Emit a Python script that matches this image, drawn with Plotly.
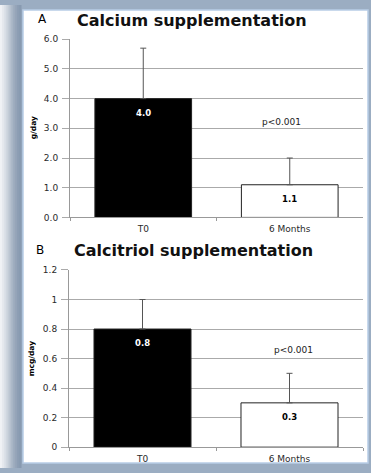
import plotly.graph_objects as go

W, H = 371, 473

categories = ["T0", "6 Months"]
calcium_mean = [4.0, 1.1]
calcium_sd = [1.7, 0.9]
calcitriol_mean = [0.8, 0.3]
calcitriol_sd = [0.2, 0.2]
bar_colors = ["#000000", "#ffffff"]
label_colors = ["#ffffff", "#000000"]
calcium_labels = ["4.0", "1.1"]
calcitriol_labels = ["0.8", "0.3"]
p_text = "p<0.001"
calcium_p_y = 3.23
calcitriol_p_y = 0.66
calcium_ticks = [0, 1, 2, 3, 4, 5, 6]
calcium_ticktext = ["0.0", "1.0", "2.0", "3.0", "4.0", "5.0", "6.0"]
calcitriol_ticks = [0, 0.2, 0.4, 0.6, 0.8, 1.0, 1.2]
calcitriol_ticktext = ["0", "0.2", "0.4", "0.6", "0.8", "1", "1.2"]

def px(x):
    return x / W

def py(y):
    return 1 - y / H

fig = go.Figure()

fig.add_trace(go.Bar(
    x=categories, y=calcium_mean, width=0.66,
    marker=dict(color=bar_colors, line=dict(color="#222222", width=1)),
    error_y=dict(type="data", array=calcium_sd, arrayminus=[0, 0], symmetric=False,
                 color="#555555", thickness=1, width=3),
    xaxis="x", yaxis="y", showlegend=False, hoverinfo="skip"))

fig.add_trace(go.Bar(
    x=categories, y=calcitriol_mean, width=0.66,
    marker=dict(color=bar_colors, line=dict(color="#222222", width=1)),
    error_y=dict(type="data", array=calcitriol_sd, arrayminus=[0, 0], symmetric=False,
                 color="#555555", thickness=1, width=3),
    xaxis="x2", yaxis="y2", showlegend=False, hoverinfo="skip"))

tickfont = dict(family="DejaVu Sans", size=9, color="#2a2a2a")
xtickfont = dict(family="DejaVu Sans", size=9, color="#2a2a2a")
common_x = dict(type="category", showgrid=False, showline=True, linecolor="#999999",
                linewidth=1, ticks="outside", tickson="boundaries", ticklen=3,
                tickcolor="#999999", tickfont=xtickfont, ticklabelstandoff=3, fixedrange=True)
common_y = dict(showgrid=True, gridcolor="#aaaaaa", gridwidth=1, showline=True,
                linecolor="#999999", linewidth=1, ticks="outside", ticklen=7,
                tickcolor="#aaaaaa", tickfont=tickfont, zeroline=False, ticklabelstandoff=2)

fig.update_layout(
    width=W, height=H,
    margin=dict(l=0, r=0, t=0, b=0),
    paper_bgcolor="#9badc2", plot_bgcolor="rgba(0,0,0,0)",
    xaxis=dict(domain=[px(70), px(363)], anchor="y", **common_x),
    yaxis=dict(domain=[py(217), py(35)], anchor="x", range=[0, 6],
               tickvals=calcium_ticks, ticktext=calcium_ticktext, **common_y),
    xaxis2=dict(domain=[px(69), px(363)], anchor="y2", **common_x),
    yaxis2=dict(domain=[py(451.7), py(270.7)], anchor="x2", range=[0, 1.2],
                tickvals=calcitriol_ticks, ticktext=calcitriol_ticktext, **common_y),
)

# Frame / background shapes
shapes = []
grad = ["#f0f2f5", "#e6e9ee", "#dce1e8", "#d0d7e0", "#c3ccd7", "#b5c0ce", "#a8b5c5", "#9dabbd",
        "#94a4b8", "#8c9db3", "#889ab0"]
n = len(grad)
for i, c in enumerate(grad):
    shapes.append(dict(type="rect", xref="paper", yref="paper", layer="below",
                       x0=px(i * 21 / n), x1=px((i + 1) * 21 / n + 0.5), y0=0, y1=1,
                       fillcolor=c, line=dict(width=0)))
shapes.append(dict(type="rect", xref="paper", yref="paper", layer="below",
                   x0=px(23), x1=px(368), y0=py(468), y1=py(5),
                   fillcolor="#ffffff", line=dict(color="#b8cde6", width=1.5)))
fig.update_layout(shapes=shapes)

ann = []
def paper_text(x, y, text, font, angle=0):
    ann.append(dict(xref="paper", yref="paper", x=px(x), y=py(y), text=text, showarrow=False,
                    xanchor="center", yanchor="middle", textangle=angle, font=font))

title_font = dict(family="DejaVu Sans", size=16, color="#111111")
letter_font = dict(family="DejaVu Sans", size=12, color="#000000")
axis_title_font = dict(family="DejaVu Sans", size=7.5, color="#000000")

paper_text(42, 14.5, "A", letter_font)
paper_text(192, 15.5, "<b>Calcium supplementation</b>", title_font)
paper_text(33, 126, "<b>g/day</b>", axis_title_font, -90)
paper_text(40, 250, "B", letter_font)
paper_text(193, 251, "<b>Calcitriol supplementation</b>", title_font)
paper_text(31, 361, "<b>mcg/day</b>", axis_title_font, -90)

# bar value labels
for cat, v, lab, col in zip(categories, calcium_mean, calcium_labels, label_colors):
    ann.append(dict(xref="x", yref="y", x=cat, y=v, text=f"<b>{lab}</b>", showarrow=False,
                    yanchor="top", yshift=-7, font=dict(family="DejaVu Sans", size=8.5, color=col)))
for cat, v, lab, col in zip(categories, calcitriol_mean, calcitriol_labels, label_colors):
    ann.append(dict(xref="x2", yref="y2", x=cat, y=v, text=f"<b>{lab}</b>", showarrow=False,
                    yanchor="top", yshift=-7, font=dict(family="DejaVu Sans", size=8.5, color=col)))

# p-values
ann.append(dict(xref="x", yref="y", x=categories[1], y=calcium_p_y, text=p_text, showarrow=False,
                xshift=-8, font=dict(family="DejaVu Sans", size=9, color="#222")))
ann.append(dict(xref="x2", yref="y2", x=categories[1], y=calcitriol_p_y, text=p_text, showarrow=False,
                xshift=4, font=dict(family="DejaVu Sans", size=9, color="#222")))

fig.update_layout(annotations=ann)

fig.write_html("out.html")
